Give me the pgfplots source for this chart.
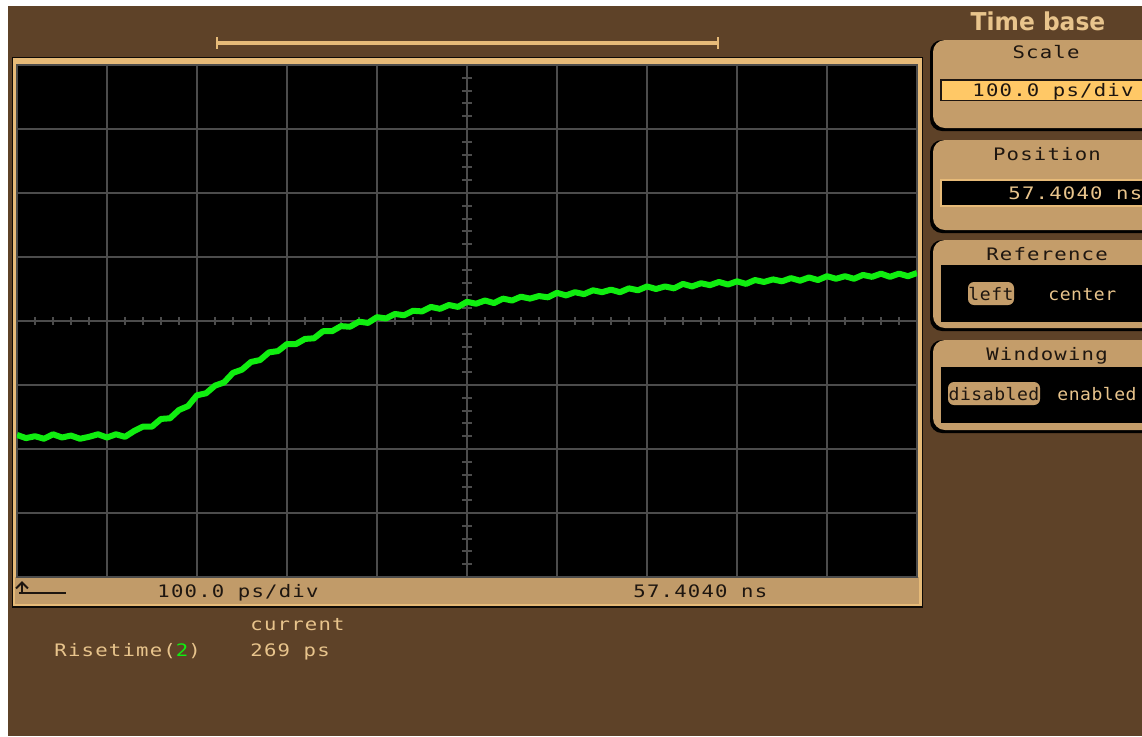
\documentclass[border=0pt]{standalone}
\usepackage{fontspec}
\usepackage{pgfplots}
\pgfplotsset{compat=1.18}
\usetikzlibrary{arrows.meta}
\newfontfamily\scopefont[FakeStretch=1.2,LetterSpace=7]{DejaVu Sans Mono}
\newfontfamily\optfont[FakeStretch=1.05,LetterSpace=3]{DejaVu Sans Mono}
\newfontfamily\headfont{DejaVu Sans}
\definecolor{bgbrown}{HTML}{5E4228}
\definecolor{frametan}{HTML}{E6BA78}
\definecolor{striptan}{HTML}{C19B69}
\definecolor{paneltan}{HTML}{C49D6A}
\definecolor{texttan}{HTML}{E8C48C}
\definecolor{textdark}{HTML}{1E1610}
\definecolor{fieldyellow}{HTML}{FFC866}
\definecolor{gridgray}{HTML}{4C4C4C}
\definecolor{tracegreen}{HTML}{10EE10}
\newcommand{\mono}{\scopefont\fontsize{8.6}{10}\selectfont}
\newcommand{\opt}{\optfont\fontsize{8.6}{10}\selectfont}

% trace: time (ps from left edge) vs. vertical divisions from centre
\pgfplotstableread{
t y
0 -1.78
10 -1.83
20 -1.80
30 -1.84
40 -1.77
50 -1.82
60 -1.79
70 -1.84
80 -1.81
90 -1.77
100 -1.82
110 -1.77
120 -1.81
130 -1.72
140 -1.65
150 -1.65
160 -1.53
170 -1.52
180 -1.39
190 -1.33
200 -1.16
210 -1.13
220 -1.01
230 -0.96
240 -0.81
250 -0.76
260 -0.64
270 -0.61
280 -0.49
290 -0.47
300 -0.36
310 -0.36
320 -0.28
330 -0.27
340 -0.16
350 -0.16
360 -0.08
370 -0.09
380 -0.01
390 -0.03
400 0.06
410 0.04
420 0.11
430 0.09
440 0.16
450 0.15
460 0.22
470 0.19
480 0.25
490 0.22
500 0.30
510 0.27
520 0.32
530 0.28
540 0.35
550 0.32
560 0.38
570 0.35
580 0.39
590 0.37
600 0.44
610 0.40
620 0.45
630 0.42
640 0.48
650 0.45
660 0.49
670 0.45
680 0.51
690 0.48
700 0.54
710 0.50
720 0.54
730 0.51
740 0.58
750 0.54
760 0.59
770 0.56
780 0.61
790 0.57
800 0.62
810 0.58
820 0.64
830 0.61
840 0.65
850 0.62
860 0.67
870 0.63
880 0.68
890 0.64
900 0.70
910 0.66
920 0.70
930 0.66
940 0.72
950 0.69
960 0.74
970 0.69
980 0.74
990 0.70
1000 0.75
}\trace

\begin{document}
\begin{tikzpicture}
\begin{scope}[x=0.5pt,y=-0.5pt]
  \useasboundingbox (0,0) rectangle (1142,736);
  \fill[white] (0,0) rectangle (1142,736);
  \fill[bgbrown] (8,6) rectangle (1142,736);
  % record length bar
  \draw[frametan, line width=2pt] (217,43) -- (718,43);
  \draw[frametan, line width=1pt] (217,37) -- (217,49) (718,37) -- (718,49);
  % screen frame
  \fill[black!85!bgbrown] (12,57) rectangle (923,608);
  \fill[frametan] (13,58) rectangle (922,606);
  \fill[striptan] (15,577) rectangle (919,604);
  \draw[textdark, line width=1pt] (19,593) -- (66,593);
  \draw[textdark, line width=1pt, -{Straight Barb[length=3pt,width=6pt]}] (22,593) -- (22,581);
  \node[anchor=base west, inner sep=0, text=textdark, font=\mono] at (157,597) {100.0 ps/div};
  \node[anchor=base west, inner sep=0, text=textdark, font=\mono] at (633,597) {57.4040 ns};
  % measurement readout
  \node[anchor=base west, inner sep=0, text=texttan, font=\mono] at (250,630) {current};
  \node[anchor=base west, inner sep=0, text=texttan, font=\mono] at (54,656) {Risetime(\textcolor{tracegreen}{2})};
  \node[anchor=base west, inner sep=0, text=texttan, font=\mono] at (250,656) {269 ps};
  % right panel
  \node[anchor=base, inner sep=0, text=texttan] at (1038,30)
    {\scalebox{0.95}[1]{\headfont\bfseries\fontsize{12.3}{14}\selectfont Time base}};
  \foreach \ya/\yb in {40/128,140/230,240/328,340/430}{
    \fill[black, rounded corners=6] (930,\ya) rectangle (1160,\yb+3);
    \fill[paneltan, rounded corners=6] (933,\ya) rectangle (1160,\yb);
  }
  \node[anchor=base, inner sep=0, text=textdark, font=\mono] at (1046,58) {Scale};
  \fill[textdark] (940,79) rectangle (1150,101);
  \fill[fieldyellow] (942,81) rectangle (1150,100);
  \node[anchor=base west, inner sep=0, text=textdark, font=\mono] at (972,96) {100.0 ps/div};
  \node[anchor=base, inner sep=0, text=textdark, font=\mono] at (1047,160) {Position};
  \fill[frametan] (940,179) rectangle (1150,207);
  \fill[black] (942,181) rectangle (1150,205);
  \node[anchor=base west, inner sep=0, text=texttan, font=\mono] at (1008,199) {57.4040 ns};
  \node[anchor=base, inner sep=0, text=textdark, font=\mono] at (1047,260) {Reference};
  \fill[black] (941,265) rectangle (1150,322);
  \fill[paneltan, rounded corners=3] (968,282) rectangle (1014,305);
  \node[anchor=base, inner sep=0, text=textdark, font=\opt] at (991,300) {left};
  \node[anchor=base west, inner sep=0, text=texttan, font=\opt] at (1048,300) {center};
  \node[anchor=base, inner sep=0, text=textdark, font=\mono] at (1047,360) {Windowing};
  \fill[black] (941,367) rectangle (1150,423);
  \fill[paneltan, rounded corners=3] (948,382) rectangle (1040,405);
  \node[anchor=base, inner sep=0, text=textdark, font=\opt] at (994,400) {disabled};
  \node[anchor=base west, inner sep=0, text=texttan, font=\opt] at (1057,400) {enabled};
\end{scope}

\begin{axis}[
  at={(8.5pt,-32.5pt)}, anchor=north west,
  width=450pt, height=256pt, scale only axis,
  xmin=0, xmax=1000, ymin=-4, ymax=4,
  xtick={0,100,...,1000}, ytick={-4,-3,...,4},
  xticklabels={}, yticklabels={}, major tick length=0pt,
  grid=major, grid style={color=gridgray, line width=1pt},
  axis line style={draw=gridgray, line width=1pt},
  axis background/.style={fill=black},
]
\pgfplotsinvokeforeach{20,40,...,980}{
  \draw[gridgray, line width=1pt] (axis cs:#1,-0.0625) -- (axis cs:#1,0.0625);
}
\pgfplotsinvokeforeach{-3.8,-3.6,...,3.8}{
  \draw[gridgray, line width=1pt] (axis cs:494.5,#1) -- (axis cs:505.5,#1);
}
\addplot[color=tracegreen, line width=3pt, line join=round] table[x=t, y=y] {\trace};
\end{axis}
\end{tikzpicture}
\end{document}
